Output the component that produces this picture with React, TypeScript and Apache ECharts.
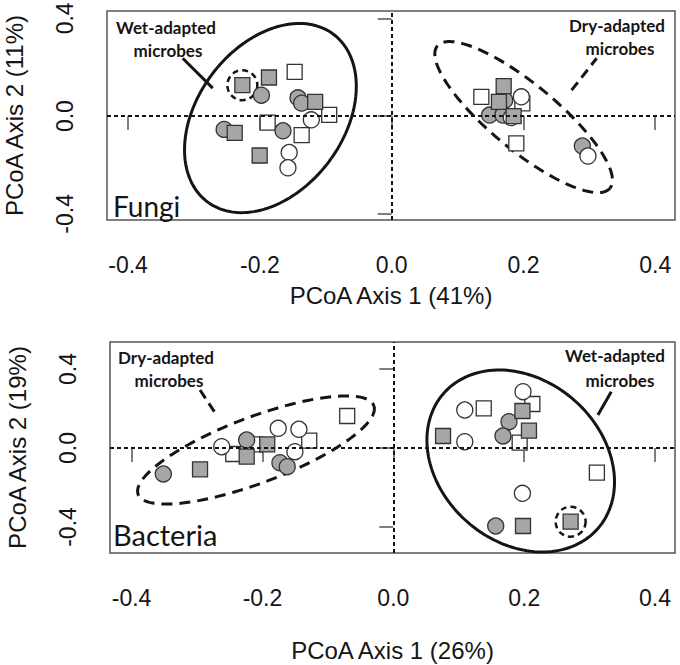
import React, { useEffect, useRef } from "react";
import * as echarts from "echarts";

// ---------- tick labels ----------
const xTicks = [-0.4, -0.2, 0, 0.2, 0.4];
const yTicks = [-0.4, 0, 0.4];

// ---------- Fungi (top panel) ----------
const fungiGrayCircles = [
  [-0.1977, 0.0857], [-0.1422, 0.0747], [-0.1366, 0.0531], [-0.2542, -0.0543], [-0.1649, -0.06],
  [0.1715, 0.0653], [0.1487, 0.0041], [0.1689, 0.0041], [0.2894, -0.1224],
];
const fungiGraySquares = [
  [-0.2266, 0.1265], [-0.1862, 0.158], [-0.1161, 0.0584], [-0.2382, -0.0682], [-0.2003, -0.1612],
  [0.17, 0.1224], [0.1628, 0.0584], [0.1851, 0.0],
];
const fungiWhiteSquares = [
  [-0.1472, 0.181], [-0.0948, 0.0053], [-0.1882, -0.0265], [-0.1366, -0.0776],
  [0.1361, 0.0788], [0.1983, 0.0518], [0.1892, -0.1114],
];
const fungiWhiteCircles = [
  [-0.1219, -0.0151], [-0.1555, -0.149], [-0.1574, -0.2114],
  [0.1968, 0.0788], [0.1816, -0.0061], [0.2979, -0.1633],
];
// ellipse: centre x, centre y, semi-axis U (dx, dy), semi-axis V (dx, dy), dashed flag
const fungiEllipses = [
  [-0.184, -0.008, 0.0956, 0.343, 0.0886, -0.179, 0],
  [0.2003, -0.004, 0.131, -0.291, -0.0319, -0.104, 1],
];
const fungiHighlight = [[-0.2266, 0.1265]];
const fungiLeaders = [
  [-0.3171, 0.2367, -0.2716, 0.1143, 0],
  [0.2731, 0.1061, 0.3111, 0.2367, 1],
];

// ---------- Bacteria (bottom panel) ----------
const bactGrayCircles = [
  [-0.2241, 0.0405], [-0.1733, -0.0744], [-0.1621, -0.0947], [-0.3515, -0.1316],
  [0.1768, 0.1332], [0.1676, 0.0608], [0.1565, -0.3949],
];
const bactGraySquares = [
  [-0.1927, 0.0187], [-0.2241, -0.044], [-0.2954, -0.1078],
  [0.1973, 0.1873], [0.2073, 0.0876], [0.076, 0.0608], [0.1982, -0.3949], [0.271, -0.3732],
];
const bactWhiteSquares = [
  [-0.0705, 0.162], [-0.1285, 0.037], [-0.2115, 0.0187], [-0.2446, -0.0304],
  [0.2125, 0.2228], [0.1382, 0.201], [0.1931, 0.0268], [0.3111, -0.1251],
];
const bactWhiteCircles = [
  [-0.1759, 0.0997], [-0.1443, 0.0947], [-0.2623, 0.0066], [-0.1504, -0.0187],
  [0.1982, 0.2851], [0.1092, 0.1924], [0.1092, 0.0319], [0.1973, -0.2294],
];
const bactEllipses = [
  [-0.2099, -0.0101, 0.1801, 0.2248, 0.0177, -0.1565, 1],
  [0.1947, -0.0658, 0.1182, -0.3408, -0.0811, -0.3099, 0],
];
const bactHighlight = [[0.271, -0.3732]];
const bactLeaders = [
  [-0.2954, 0.2937, -0.2725, 0.1787, 1],
  [0.3331, 0.2851, 0.3127, 0.1671, 0],
];

const AXIS_FONT = "Liberation Sans";
const NOTE_FONT = "Lato, sans-serif";
const GRAY = "#a6a6a6";
const EDGE = "#333333";
const INK = "#151515";

function ellipseRender(params: any, api: any) {
  const cx = api.value(0), cy = api.value(1);
  const c = api.coord([cx, cy]);
  const pu = api.coord([cx + api.value(2), cy + api.value(3)]);
  const pv = api.coord([cx + api.value(4), cy + api.value(5)]);
  const ux = pu[0] - c[0], uy = pu[1] - c[1];
  const vx = pv[0] - c[0], vy = pv[1] - c[1];
  const pts: number[][] = [];
  const n = 160;
  for (let k = 0; k <= n; k++) {
    const t = (k / n) * Math.PI * 2;
    pts.push([c[0] + ux * Math.cos(t) + vx * Math.sin(t), c[1] + uy * Math.cos(t) + vy * Math.sin(t)]);
  }
  const dashed = api.value(6) === 1;
  return {
    type: "polyline",
    shape: { points: pts },
    style: { fill: "none", stroke: INK, lineWidth: 3, lineDash: dashed ? [11, 7] : null },
  };
}

function circleRender(params: any, api: any) {
  const c = api.coord([api.value(0), api.value(1)]);
  return {
    type: "circle",
    shape: { cx: c[0], cy: c[1], r: 15 },
    style: { fill: "none", stroke: INK, lineWidth: 2.5, lineDash: [6, 4] },
  };
}

function leaderRender(params: any, api: any) {
  const a = api.coord([api.value(0), api.value(1)]);
  const b = api.coord([api.value(2), api.value(3)]);
  const dashed = api.value(4) === 1;
  return {
    type: "line",
    shape: { x1: a[0], y1: a[1], x2: b[0], y2: b[1] },
    style: { stroke: INK, lineWidth: 3, lineDash: dashed ? [10, 6] : null },
  };
}

function panelSeries(idx: number, d: any) {
  const base = { xAxisIndex: idx, yAxisIndex: idx };
  const scatter = (data: number[][], symbol: string, fill: string) => ({
    ...base,
    type: "scatter",
    data,
    symbol,
    symbolSize: symbol === "rect" ? 15 : 16,
    itemStyle: { color: fill, borderColor: EDGE, borderWidth: 1.3, opacity: 1 },
    emphasis: { disabled: true },
    silent: true,
  });
  return [
    {
      ...base,
      type: "custom",
      renderItem: ellipseRender,
      data: d.ellipses,
      encode: { x: 0, y: 1 },
      silent: true,
      markLine: {
        silent: true,
        symbol: ["none", "none"],
        label: { show: false },
        lineStyle: { color: INK, type: [4, 3], width: 2 },
        data: [{ xAxis: 0 }, { yAxis: 0 }],
      },
    },
    {
      ...base,
      type: "custom",
      renderItem: leaderRender,
      data: d.leaders,
      encode: { x: 0, y: 1 },
      silent: true,
    },
    scatter(d.whiteSquares, "rect", "#ffffff"),
    scatter(d.grayCircles, "circle", GRAY),
    scatter(d.whiteCircles, "circle", "#ffffff"),
    scatter(d.graySquares, "rect", GRAY),
    {
      ...base,
      type: "custom",
      renderItem: circleRender,
      data: d.highlight,
      encode: { x: 0, y: 1 },
      silent: true,
    },
  ];
}

function xAxisFor(idx: number, name: string, nameGap: number, min: number, max: number) {
  return {
    gridIndex: idx,
    type: "value",
    min,
    max,
    offset: 5,
    axisLine: { show: false },
    axisTick: { show: true, length: 14, customValues: xTicks, lineStyle: { color: "#555", width: 1.5 } },
    axisLabel: {
      customValues: xTicks,
      formatter: (v: number) => v.toFixed(1),
      fontSize: 23,
      color: INK,
      fontFamily: AXIS_FONT,
      margin: 28,
    },
    splitLine: { show: false },
    name,
    nameLocation: "middle",
    nameGap,
    nameTextStyle: { fontSize: 24, color: INK, fontFamily: AXIS_FONT },
  };
}

function yAxisFor(idx: number, name: string, min: number, max: number) {
  return {
    gridIndex: idx,
    type: "value",
    min,
    max,
    axisLine: { show: false },
    axisTick: { show: true, length: 14, customValues: yTicks, lineStyle: { color: "#555", width: 1.5 } },
    axisLabel: {
      customValues: yTicks,
      formatter: (v: number) => v.toFixed(1),
      fontSize: 23,
      color: INK,
      fontFamily: AXIS_FONT,
      rotate: 90,
      margin: 31,
    },
    splitLine: { show: false },
    name,
    nameLocation: "middle",
    nameGap: 81,
    nameRotate: 90,
    nameTextStyle: { fontSize: 24, color: INK, fontFamily: AXIS_FONT },
  };
}

function note(text: string, x: number, y: number, opts: any = {}) {
  return {
    type: "text",
    x,
    y,
    silent: true,
    style: {
      text,
      fill: INK,
      font: opts.font || `bold 17px ${NOTE_FONT}`,
      textAlign: opts.align || "center",
      textVerticalAlign: opts.valign || "middle",
    },
  };
}

export default function App() {
  const ref = useRef<HTMLDivElement>(null);
  useEffect(() => {
    document.body.style.margin = "0";
    const chart = echarts.init(ref.current as HTMLDivElement, null, { renderer: "svg" });
    const gridBase = {
      show: true,
      borderColor: "#555",
      borderWidth: 1.5,
      backgroundColor: "transparent",
      containLabel: false,
      outerBoundsMode: "none",
    };
    const option: any = {
      animation: false,
      backgroundColor: "#ffffff",
      textStyle: { fontFamily: AXIS_FONT },
      grid: [
        { ...gridBase, left: 107, top: 11, width: 568, height: 209 },
        { ...gridBase, left: 110, top: 342, width: 565, height: 211 },
      ],
      xAxis: [
        xAxisFor(0, "PCoA Axis 1 (41%)", 58, -0.432, 0.43),
        xAxisFor(1, "PCoA Axis 1 (26%)", 80, -0.433, 0.4305),
      ],
      yAxis: [
        yAxisFor(0, "PCoA Axis 2 (11%)", -0.425, 0.43),
        yAxisFor(1, "PCoA Axis 2 (19%)", -0.5316, 0.5367),
      ],
      series: [
        ...panelSeries(0, {
          ellipses: fungiEllipses,
          leaders: fungiLeaders,
          whiteSquares: fungiWhiteSquares,
          grayCircles: fungiGrayCircles,
          whiteCircles: fungiWhiteCircles,
          graySquares: fungiGraySquares,
          highlight: fungiHighlight,
        }),
        ...panelSeries(1, {
          ellipses: bactEllipses,
          leaders: bactLeaders,
          whiteSquares: bactWhiteSquares,
          grayCircles: bactGrayCircles,
          whiteCircles: bactWhiteCircles,
          graySquares: bactGraySquares,
          highlight: bactHighlight,
        }),
      ],
      graphic: [
        note("Wet-adapted", 166, 27),
        note("microbes", 168, 50),
        note("Dry-adapted", 617, 25),
        note("microbes", 620, 48),
        note("Fungi", 113, 220, { font: `28px ${NOTE_FONT}`, align: "left", valign: "bottom" }),
        note("Dry-adapted", 166, 357),
        note("microbes", 169, 380),
        note("Wet-adapted", 615, 355),
        note("microbes", 620, 380),
        note("Bacteria", 113, 549, { font: `29px ${NOTE_FONT}`, align: "left", valign: "bottom" }),
      ],
    };
    chart.setOption(option);
    return () => chart.dispose();
  }, []);
  return <div ref={ref} style={{ width: 680, height: 665 }} />;
}
